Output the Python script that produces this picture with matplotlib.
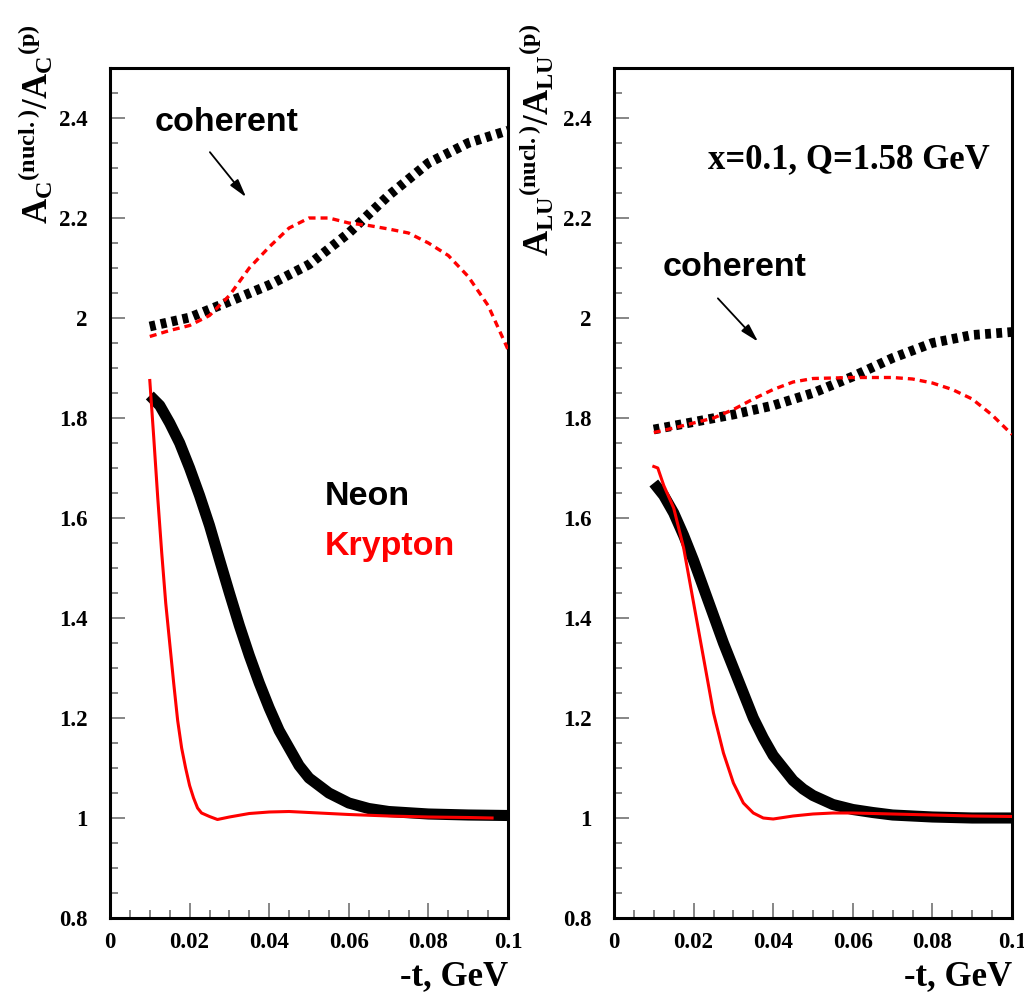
import matplotlib
matplotlib.use("Agg")
import matplotlib.pyplot as plt
from matplotlib.ticker import MultipleLocator, FuncFormatter

# ---------------- data ----------------
# Left panel: A_C
t_neon_L = [0.010, 0.0125, 0.015, 0.0175, 0.020, 0.0225, 0.025, 0.0275, 0.030, 0.0325,
            0.035, 0.0375, 0.040, 0.0425, 0.045, 0.0475, 0.050, 0.055, 0.060, 0.065,
            0.070, 0.080, 0.090, 0.100]
neon_L = [1.845, 1.825, 1.79, 1.75, 1.70, 1.645, 1.585, 1.517, 1.45, 1.385,
          1.325, 1.27, 1.22, 1.175, 1.14, 1.105, 1.08, 1.05, 1.03, 1.019,
          1.013, 1.008, 1.006, 1.005]

t_kr_L = [0.010, 0.011, 0.012, 0.013, 0.014, 0.015, 0.016, 0.017, 0.018, 0.019,
          0.020, 0.021, 0.022, 0.023, 0.025, 0.027, 0.030, 0.035, 0.040, 0.045,
          0.050, 0.060, 0.070, 0.080, 0.090, 0.096]
kr_L = [1.875, 1.76, 1.64, 1.53, 1.43, 1.35, 1.27, 1.195, 1.14, 1.10,
        1.065, 1.04, 1.02, 1.01, 1.003, 0.997, 1.002, 1.009, 1.012, 1.013,
        1.011, 1.007, 1.004, 1.002, 1.001, 1.0]

t_coh_neon_L = [0.01, 0.02, 0.03, 0.04, 0.05, 0.06, 0.07, 0.08, 0.09, 0.10]
coh_neon_L = [1.983, 2.001, 2.033, 2.066, 2.107, 2.17, 2.245, 2.31, 2.35, 2.375]

t_coh_kr_L = [0.010, 0.015, 0.020, 0.025, 0.030, 0.035, 0.040, 0.045, 0.050, 0.055,
              0.060, 0.065, 0.070, 0.075, 0.080, 0.085, 0.090, 0.095, 0.100]
coh_kr_L = [1.963, 1.975, 1.985, 2.005, 2.045, 2.10, 2.142, 2.18, 2.2, 2.2,
            2.19, 2.185, 2.178, 2.17, 2.15, 2.125, 2.083, 2.025, 1.937]

# Right panel: A_LU
t_neon_R = [0.010, 0.0125, 0.015, 0.0175, 0.020, 0.0225, 0.025, 0.0275, 0.030, 0.0325,
            0.035, 0.0375, 0.040, 0.0425, 0.045, 0.0475, 0.050, 0.055, 0.060, 0.065,
            0.070, 0.080, 0.090, 0.100]
neon_R = [1.67, 1.645, 1.61, 1.565, 1.515, 1.46, 1.405, 1.35, 1.30, 1.25,
          1.20, 1.16, 1.125, 1.10, 1.075, 1.058, 1.045, 1.027, 1.017, 1.011,
          1.006, 1.002, 1.0, 1.0]

t_kr_R = [0.010, 0.011, 0.0125, 0.015, 0.0175, 0.020, 0.0225, 0.025, 0.0275, 0.030,
          0.0325, 0.035, 0.0375, 0.040, 0.045, 0.050, 0.055, 0.060, 0.070, 0.080,
          0.090, 0.100]
kr_R = [1.703, 1.70, 1.665, 1.62, 1.54, 1.43, 1.32, 1.21, 1.13, 1.07,
        1.03, 1.01, 1.0, 0.998, 1.004, 1.008, 1.01, 1.01, 1.008, 1.006,
        1.004, 1.003]

t_coh_neon_R = [0.01, 0.02, 0.03, 0.04, 0.05, 0.06, 0.07, 0.08, 0.09, 0.10]
coh_neon_R = [1.777, 1.792, 1.807, 1.825, 1.85, 1.883, 1.92, 1.95, 1.966, 1.972]

t_coh_kr_R = [0.010, 0.015, 0.020, 0.025, 0.030, 0.035, 0.040, 0.045, 0.050, 0.060,
              0.070, 0.075, 0.080, 0.085, 0.090, 0.095, 0.100]
coh_kr_R = [1.771, 1.78, 1.79, 1.80, 1.817, 1.838, 1.857, 1.872, 1.879, 1.881,
            1.881, 1.878, 1.87, 1.857, 1.838, 1.806, 1.767]

xticks = [0, 0.02, 0.04, 0.06, 0.08, 0.1]
yticks = [0.8, 1.0, 1.2, 1.4, 1.6, 1.8, 2.0, 2.2, 2.4]

# ---------------- style ----------------
plt.rcParams['mathtext.fontset'] = 'custom'
plt.rcParams['mathtext.rm'] = 'Liberation Serif:bold'
plt.rcParams['mathtext.it'] = 'Liberation Serif:bold'
plt.rcParams['mathtext.bf'] = 'Liberation Serif:bold'

SERIF = 'Liberation Serif'
SANS = 'Liberation Sans'

fig = plt.figure(figsize=(10.24, 9.92), dpi=100)
W, H = 1024.0, 992.0
axL = fig.add_axes([110 / W, 1 - 918 / H, 398 / W, 850 / H])
axR = fig.add_axes([614 / W, 1 - 918 / H, 398 / W, 850 / H])

def fmt(v, pos):
    return ('%g' % round(v, 4))

for ax in (axL, axR):
    ax.set_xlim(0, 0.1)
    ax.set_ylim(0.8, 2.5)
    ax.set_xticks(xticks)
    ax.set_yticks(yticks)
    ax.xaxis.set_minor_locator(MultipleLocator(0.005))
    ax.yaxis.set_minor_locator(MultipleLocator(0.05))
    ax.xaxis.set_major_formatter(FuncFormatter(fmt))
    ax.yaxis.set_major_formatter(FuncFormatter(fmt))
    ax.tick_params(axis='both', which='both', direction='in', color='#666666',
                   top=False, right=False)
    ax.tick_params(axis='both', which='major', length=11, width=1.1)
    ax.tick_params(axis='both', which='minor', length=6, width=1.1)
    ax.tick_params(axis='y', which='major', pad=16)
    ax.tick_params(axis='x', which='major', pad=10)
    for lab in ax.get_xticklabels() + ax.get_yticklabels():
        lab.set_fontfamily(SERIF)
        lab.set_fontweight('bold')
        lab.set_fontsize(16.5)
    for sp in ax.spines.values():
        sp.set_linewidth(2.2)
        sp.set_color('black')

for ax in (axL, axR):
    pos = ax.get_position()
    fig.text(pos.x1, 1 - 985 / H, '-t, GeV', fontfamily=SERIF, fontweight='bold',
             fontsize=25, ha='right', va='baseline')

def draw(ax, tn, yn, tk, yk, tcn, ycn, tck, yck):
    ax.plot(tn, yn, color='black', lw=8, solid_capstyle='butt',
            solid_joinstyle='round', zorder=3)
    ax.plot(tk, yk, color='#ff0000', lw=2.2, solid_joinstyle='round', zorder=4)
    ax.plot(tcn, ycn, color='black', lw=7, linestyle=(0, (0.6, 0.55)),
            dash_capstyle='butt', zorder=3)
    ax.plot(tck, yck, color='#ff0000', lw=2.4, linestyle=(0, (2.1, 1.5)),
            dash_capstyle='butt', zorder=4)

draw(axL, t_neon_L, neon_L, t_kr_L, kr_L, t_coh_neon_L, coh_neon_L, t_coh_kr_L, coh_kr_L)
draw(axR, t_neon_R, neon_R, t_kr_R, kr_R, t_coh_neon_R, coh_neon_R, t_coh_kr_R, coh_kr_R)

arrow = dict(arrowstyle='-|>,head_length=1.1,head_width=0.3',
             color='black', lw=1.3, shrinkA=0, shrinkB=0)

# annotations
axL.text(0.113, 0.926, 'coherent', transform=axL.transAxes, fontfamily=SANS,
         fontweight='bold', fontsize=24.5, ha='left', va='baseline')
axL.annotate('', xy=(0.342, 0.848), xytext=(0.251, 0.901),
             xycoords='axes fraction', textcoords='axes fraction', arrowprops=arrow)
axL.text(0.54, 0.486, 'Neon', transform=axL.transAxes, fontfamily=SANS,
         fontweight='bold', fontsize=24.5, ha='left', va='baseline', color='black')
axL.text(0.54, 0.427, 'Krypton', transform=axL.transAxes, fontfamily=SANS,
         fontweight='bold', fontsize=24.5, ha='left', va='baseline', color='#ff0000')

axR.text(0.945, 0.882, 'x=0.1, Q=1.58 GeV', transform=axR.transAxes, fontfamily=SERIF,
         fontweight='bold', fontsize=25, ha='right', va='baseline')
axR.text(0.123, 0.755, 'coherent', transform=axR.transAxes, fontfamily=SANS,
         fontweight='bold', fontsize=24.5, ha='left', va='baseline')
axR.annotate('', xy=(0.362, 0.678), xytext=(0.261, 0.729),
             xycoords='axes fraction', textcoords='axes fraction', arrowprops=arrow)

# y labels
fig.text(35 / W, 1 - 24 / H, r'$A_{C}{}^{(nucl.)}/A_{C}{}^{(p)}$', rotation=90,
         ha='center', va='top', fontsize=25)
fig.text(536 / W, 1 - 24 / H, r'$A_{LU}{}^{(nucl.)}/A_{LU}{}^{(p)}$', rotation=90,
         ha='center', va='top', fontsize=25)

fig.savefig('out.png', dpi=100)
